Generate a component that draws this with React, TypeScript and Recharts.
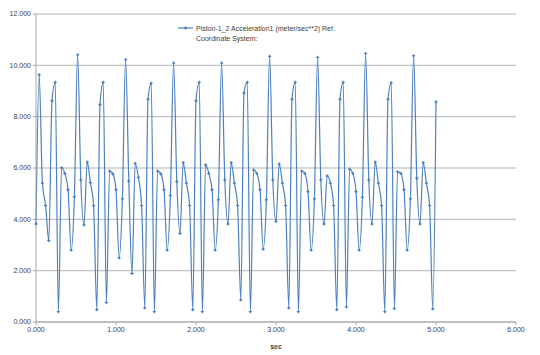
import React from 'react';
import { LineChart, Line, XAxis, YAxis, CartesianGrid } from 'recharts';

const STEP = 0.04;
const accelValues: number[] = [
  3.82, 9.63, 5.41, 4.54, 3.17, 8.62, 9.34, 0.40, 6.01, 5.79,
  5.15, 2.80, 4.88, 10.41, 5.54, 3.78, 6.23, 5.43, 4.53, 0.48,
  8.47, 9.34, 0.76, 5.88, 5.77, 5.15, 2.50, 4.80, 10.22, 5.49,
  1.89, 6.18, 5.64, 4.54, 0.55, 8.68, 9.30, 0.40, 5.88, 5.77,
  5.15, 2.80, 4.93, 10.09, 5.47, 3.45, 6.21, 5.41, 4.54, 0.48,
  8.62, 9.34, 0.40, 6.12, 5.79, 5.15, 2.80, 4.76, 10.09, 5.54,
  3.82, 6.21, 5.41, 4.54, 0.86, 8.92, 9.34, 0.40, 5.92, 5.79,
  5.15, 2.84, 4.76, 10.35, 5.54, 3.92, 6.16, 5.41, 4.54, 0.55,
  8.68, 9.34, 0.40, 5.88, 5.79, 5.08, 2.80, 4.80, 10.31, 5.54,
  3.82, 5.69, 5.41, 4.54, 0.48, 8.68, 9.34, 0.59, 5.95, 5.79,
  5.08, 2.80, 4.86, 10.46, 5.54, 3.82, 6.23, 5.41, 4.54, 0.40,
  8.68, 9.32, 0.53, 5.85, 5.79, 5.15, 2.80, 4.80, 10.37, 5.60,
  3.82, 6.21, 5.41, 4.54, 0.51, 8.58,
];
const xTicks = [0, 1, 2, 3, 4, 5, 6];
const yTicks = [0, 2, 4, 6, 8, 10, 12];
const seriesName = 'Piston-1_2 Acceleration1 (meter/sec**2) Ref.';
const seriesName2 = 'Coordinate System:';
const xLabel = 'sec';

const data = accelValues.map((v, i) => ({ t: +(i * STEP).toFixed(2), a: v }));

const LINE = '#4F81BD';
const TEXT = '#404040';
const FONT = '"Liberation Sans", Arial, sans-serif';

const Marker = (props: any) => {
  const { cx, cy } = props;
  if (cx == null || cy == null) return null;
  return (
    <g>
      <path d={`M${cx - 1.6},${cy}L${cx + 1.6},${cy}M${cx},${cy - 1.6}L${cx},${cy + 1.6}`} stroke="#4A7EBB" strokeWidth={1} />
      <circle cx={cx} cy={cy} r={0.9} fill="#4A7EBB" />
    </g>
  );
};

const LegendBox = () => (
  <svg width={220} height={26} style={{ position: 'absolute', left: 178, top: 22, overflow: 'visible' }}>
    <line x1={0} y1={6} x2={15} y2={6} stroke={LINE} strokeWidth={1.2} />
    <circle cx={7.5} cy={6} r={1.4} fill="#4A7EBB" />
    <text x={18} y={8.5} fontSize={7} fill={TEXT} fontFamily={FONT}>{seriesName}</text>
    <text x={18} y={18.5} fontSize={7} fill={TEXT} fontFamily={FONT}>{seriesName2}</text>
  </svg>
);

export default function App() {
  return (
    <div style={{ position: 'absolute', left: 0, top: 0, width: 540, height: 355, background: '#fff' }}>
      <LineChart width={540} height={355} data={data} margin={{ top: 14, right: 24, bottom: 0, left: 0 }}>
        <CartesianGrid vertical={false} stroke="#B3B3B3" strokeWidth={1} />
        <XAxis
          dataKey="t"
          type="number"
          domain={[0, 6]}
          ticks={xTicks}
          tickFormatter={(v: number) => v.toFixed(3)}
          stroke="#A6A6A6"
          tickSize={3}
          tick={{ fontSize: 7, fill: TEXT, fontFamily: FONT }}
          height={33}
          label={{ value: xLabel, position: 'insideBottom', offset: 6, fontSize: 7, fontWeight: 'bold', fill: TEXT, fontFamily: FONT }}
        />
        <YAxis
          type="number"
          domain={[0, 12]}
          ticks={yTicks}
          tickFormatter={(v: number) => v.toFixed(3)}
          stroke="#A6A6A6"
          tickSize={3}
          width={36}
          tick={{ fontSize: 7, fill: TEXT, fontFamily: FONT }}
        />
        <Line
          type="monotone"
          dataKey="a"
          name={seriesName}
          stroke={LINE}
          strokeWidth={1.2}
          dot={<Marker />}
          isAnimationActive={false}
        />
      </LineChart>
      <LegendBox />
    </div>
  );
}
